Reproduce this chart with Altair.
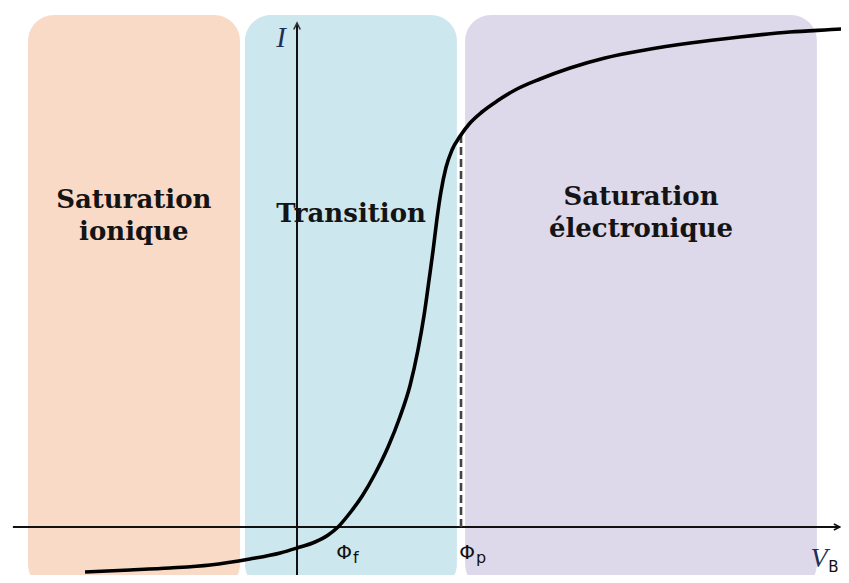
import altair as alt
import pandas as pd

# ---- data (V and I in arbitrary units) ----
V_curve = [-5.17, -4.07, -3.10, -2.12, -1.15, -0.41, 0.00, 0.44, 0.76, 1.00, 1.29, 1.59,
           1.90, 2.22, 2.51, 2.76, 2.95, 3.10, 3.22, 3.32, 3.41, 3.51, 3.63, 3.78,
           3.98, 4.22, 4.51, 4.88, 5.32, 5.93, 6.66, 7.51, 8.49, 9.59, 10.80, 12.02, 13.27, 13.6]
I_curve = [-0.90, -0.86, -0.82, -0.76, -0.64, -0.52, -0.42, -0.30, -0.16, 0.00, 0.28, 0.62,
           1.06, 1.60, 2.20, 2.84, 3.54, 4.24, 4.94, 5.54, 6.14, 6.70, 7.18, 7.54,
           7.82, 8.08, 8.30, 8.52, 8.74, 8.96, 9.18, 9.38, 9.54, 9.68, 9.80, 9.90, 9.96, 9.98]

region_names = ["Saturation\nionique", "Transition", "Saturation\nélectronique"]
region_start = [-6.56, -1.27, 4.10]
region_end = [-1.39, 3.90, 12.68]
region_top = [10.24, 10.24, 10.24]
region_bottom = [-1.26, -1.26, -1.26]
region_colors = ["#f9dac7", "#cde7ef", "#ddd8ea"]
label_V = [-3.98, 1.32, 8.39]
label_I = [6.38, 6.10, 6.44]

phi_f = 1.0
phi_p = 4.0
I_at_phi_p = 7.84
V_axis_range = [-6.93, 13.24]
I_axis_range = [-1.3, 10.08]

x_dom = [-7.049, 13.268]
y_dom = [-0.96, 10.38]
W_PX, H_PX = 833, 567

xs = alt.Scale(domain=x_dom, nice=False, zero=False)
ys = alt.Scale(domain=y_dom, nice=False, zero=False)


def X(f):
    return alt.X(f, type="quantitative", scale=xs, axis=None)


def Y(f):
    return alt.Y(f, type="quantitative", scale=ys, axis=None)


regions = pd.DataFrame({
    "name": region_names, "v0": region_start, "v1": region_end,
    "i0": region_bottom, "i1": region_top, "color": region_colors,
    "lv": label_V, "li": label_I,
})

rects = alt.Chart(regions).mark_rect(cornerRadius=26).encode(
    x=X("v0"), x2="v1", y=Y("i0"), y2="i1",
    color=alt.Color("color:N", scale=None),
)

labels = alt.Chart(regions).mark_text(
    font="DejaVu Serif", fontWeight="bold", fontSize=26, lineBreak="\n",
    lineHeight=32, baseline="alphabetic", align="center", color="#141414",
).encode(x=X("lv"), y=Y("li"), text="name:N")

curve_df = pd.DataFrame({"V": V_curve, "I": I_curve})
curve = alt.Chart(curve_df).mark_line(
    color="black", strokeWidth=3.6, interpolate="monotone"
).encode(x=X("V"), y=Y("I"))

haxis_df = pd.DataFrame({"a": [V_axis_range[0]], "b": [V_axis_range[1]], "y": [0.0]})
haxis = alt.Chart(haxis_df).mark_rule(color="#111111", strokeWidth=2).encode(
    x=X("a"), x2="b", y=Y("y"))

vaxis_df = pd.DataFrame({"x": [0.0], "a": [I_axis_range[0]], "b": [I_axis_range[1]]})
vaxis = alt.Chart(vaxis_df).mark_rule(color="#111111", strokeWidth=2).encode(
    x=X("x"), y=Y("a"), y2="b")

dash_df = pd.DataFrame({"x": [phi_p], "a": [0.0], "b": [I_at_phi_p]})
dash = alt.Chart(dash_df).mark_rule(
    color="#444444", strokeWidth=2.6, strokeDash=[8, 4]
).encode(x=X("x"), y=Y("a"), y2="b")

arrow_r = alt.Chart(pd.DataFrame({"x": [V_axis_range[1]], "y": [0.0]})).mark_point(
    shape="M -2.4 -1.2 L 0 0 L -2.4 1.2", filled=False, stroke="#111111",
    strokeWidth=1.6, size=25, opacity=1,
).encode(x=X("x"), y=Y("y"))

arrow_u = alt.Chart(pd.DataFrame({"x": [0.0], "y": [I_axis_range[1]]})).mark_point(
    shape="M -1.3 2.6 L 0 0 L 1.3 2.6", filled=False, stroke="#333333",
    strokeWidth=1.6, size=25, opacity=1,
).encode(x=X("x"), y=Y("y"))

phi_df = pd.DataFrame({"x": [phi_f, phi_p], "y": [-0.64, -0.64], "t": ["Φ", "Φ"]})
phi = alt.Chart(phi_df).mark_text(
    font="DejaVu Sans", fontSize=20, align="center", baseline="alphabetic",
    dx=6, color="#111111",
).encode(x=X("x"), y=Y("y"), text="t:N")

sub_df = pd.DataFrame({"x": [phi_f, phi_p], "y": [-0.72, -0.72], "t": ["f", "p"]})
sub = alt.Chart(sub_df).mark_text(
    font="DejaVu Sans", fontSize=16, align="left", baseline="alphabetic",
    dx=15, color="#111111",
).encode(x=X("x"), y=Y("y"), text="t:N")

i_lab = alt.Chart(pd.DataFrame({"x": [-0.39], "y": [9.6], "t": ["I"]})).mark_text(
    font="Liberation Serif", fontStyle="italic", fontSize=29, align="center",
    baseline="alphabetic", color="#1f2f5a",
).encode(x=X("x"), y=Y("y"), text="t:N")

v_lab = alt.Chart(pd.DataFrame({"x": [12.73], "y": [-0.80], "t": ["V"]})).mark_text(
    font="Liberation Serif", fontStyle="italic", fontSize=28, align="center",
    baseline="alphabetic", color="#1f2f5a",
).encode(x=X("x"), y=Y("y"), text="t:N")

b_lab = alt.Chart(pd.DataFrame({"x": [12.96], "y": [-0.90], "t": ["B"]})).mark_text(
    font="DejaVu Sans", fontSize=15, align="left", baseline="alphabetic",
    color="#111111",
).encode(x=X("x"), y=Y("y"), text="t:N")

chart = alt.layer(
    rects, labels, haxis, vaxis, dash, curve, arrow_r, arrow_u, phi, sub, i_lab, v_lab, b_lab
).properties(
    width=W_PX, height=H_PX, padding=0, autosize=alt.AutoSizeParams(type="none"),
    background="white",
).configure_view(stroke=None)

chart.save("out.html", embed_options={"renderer": "svg", "actions": False})
